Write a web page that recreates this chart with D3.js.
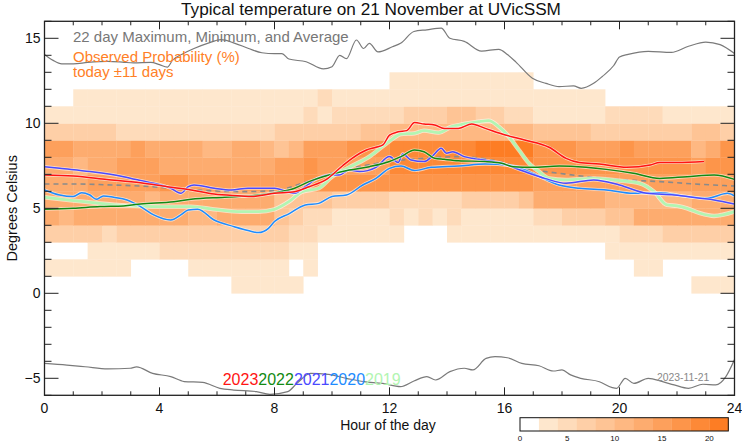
<!DOCTYPE html>
<html><head><meta charset="utf-8">
<script src="https://cdn.jsdelivr.net/npm/d3@7"></script>
<style>body{margin:0;background:#fff;} svg{display:block;font-family:"Liberation Sans",Arial,Helvetica,sans-serif;}</style>
</head><body><svg id="c" width="742" height="445"></svg>
<script>
// ---------------- data ----------------
const titleText = "Typical temperature on 21 November at UVicSSM";
const xTicks = [0, 4, 8, 12, 16, 20, 24];
const yTicks = [-5, 0, 5, 10, 15];
const colorbarTicks = [0, 5, 10, 15, 20];
const years = ["2023", "2022", "2021", "2020", "2019"];
const yearColors = ["#ff1414", "#138a13", "#4a4aff", "#1e8cff", "#b2f5b2"];

// probability level (0..10, each = 2 % wide) per half-hour column, run-length encoded
// index in this array = lower edge of the 1 °C temperature bin
const probBins = [0,1,2,3,4,5,6,7,8,9,10,11,12];
const probLevelRuns = [
  [[0,13],[1,5],[0,27],[1,3]],
  [[1,6],[0,4],[1,7],[0,1],[1,1],[0,22],[1,2],[0,5]],
  [[0,3],[1,5],[2,9],[1,2],[0,20],[1,9]],
  [[3,4],[2,1],[3,12],[2,2],[1,6],[0,3],[1,12],[2,3],[3,5]],
  [[6,1],[5,1],[6,8],[5,2],[6,4],[4,1],[3,1],[2,2],[1,4],[2,1],[1,1],[2,1],[1,1],[2,1],[1,5],[2,2],[3,3],[4,2],[6,7]],
  [[6,7],[5,1],[6,8],[4,4],[3,4],[2,5],[3,4],[4,1],[6,5],[5,6],[6,3]],
  [[6,3],[7,5],[8,2],[7,8],[8,16],[7,14]],
  [[6,2],[5,1],[6,2],[7,3],[6,8],[7,2],[8,1],[7,5],[9,10],[8,11],[7,1],[8,2]],
  [[7,2],[6,4],[7,1],[6,4],[5,2],[6,2],[5,1],[4,1],[5,1],[7,3],[8,3],[9,6],[10,4],[8,3],[7,3],[8,1],[7,4],[5,1],[6,1],[8,1]],
  [[3,5],[2,11],[3,6],[4,2],[5,10],[4,4],[3,7],[4,2],[3,1]],
  [[1,18],[2,1],[1,1],[2,5],[3,3],[4,2],[3,2],[2,2],[1,5],[2,4],[1,5]],
  [[0,2],[1,17],[2,1],[1,19],[0,9]],
  [[0,24],[1,10],[0,14]]
];

const maxLine = [[0,14.05],[0.3,13.7],[0.6,13.5],[1.0,13.5],[1.5,13.58],[2.2,13.64],[2.7,13.6],[3.1,13.55],[3.7,13.58],[4.0,13.45],[4.27,13.3],[4.45,13.7],[4.85,14.12],[5.2,14.4],[5.67,14.7],[6.14,14.92],[6.6,14.72],[7.1,14.4],[7.56,14.15],[8.0,14.1],[8.26,14.1],[8.5,13.78],[9.1,13.62],[9.7,13.2],[10.0,13.33],[10.27,14.0],[10.5,13.8],[10.85,14.9],[11.1,14.4],[11.3,14.7],[11.6,14.2],[12.1,14.5],[12.4,14.72],[12.85,15.4],[13.3,15.5],[13.8,15.6],[14.1,15.0],[14.6,14.82],[15.2,14.25],[15.8,14.35],[16.1,14.05],[16.4,13.6],[16.97,12.65],[17.44,12.35],[17.9,12.16],[18.4,12.2],[18.67,12.06],[19.1,12.35],[19.4,12.75],[19.8,13.4],[20.0,13.9],[20.3,14.05],[21.0,14.23],[21.8,14.17],[22.4,14.53],[23.0,14.78],[23.5,14.63],[24,14.1]];

const minLine = [[0,-4.12],[0.78,-4.22],[1.41,-4.32],[2.2,-4.45],[2.98,-4.41],[3.2,-4.33],[3.76,-4.71],[4.39,-4.9],[4.86,-5.19],[5.5,-5.24],[6.1,-5.59],[6.58,-5.69],[7.37,-5.78],[7.84,-5.94],[8.46,-5.78],[8.78,-5.3],[9.25,-4.71],[9.87,-4.77],[10.5,-5.0],[11.1,-5.2],[11.76,-5.3],[12.38,-5.49],[12.85,-5.16],[13.3,-4.9],[13.6,-5.1],[14.1,-4.61],[14.6,-4.41],[14.9,-4.51],[15.36,-3.83],[15.67,-3.73],[16.1,-3.79],[16.6,-4.12],[17.2,-4.26],[17.7,-4.57],[18.0,-4.51],[18.3,-4.8],[18.65,-5.0],[19.3,-5.2],[19.75,-5.55],[19.9,-5.59],[20.2,-5.0],[20.5,-5.3],[21.0,-5.0],[21.5,-5.2],[21.9,-5.39],[22.4,-5.59],[22.9,-5.35],[23.35,-5.39],[23.7,-4.9],[24,-3.9]];

const avgLine = [[0,6.43],[1,6.43],[2.2,6.38],[3.34,6.31],[4.5,6.18],[5.68,6.04],[6.85,5.98],[8.0,6.04],[8.96,6.47],[9.78,6.96],[10.95,7.45],[12.0,7.75],[13.2,7.94],[14.4,8.04],[15.56,7.84],[16.7,7.35],[17.9,7.06],[19.1,6.82],[20.2,6.67],[21.4,6.57],[22.6,6.43],[24,6.31]];

const series2023 = [[0,6.96],[1,6.9],[2.17,6.7],[3.34,6.5],[4.27,6.27],[5.1,6.08],[5.9,5.84],[6.85,5.73],[7.2,5.69],[8.0,5.88],[8.7,5.98],[9.2,6.27],[9.78,6.67],[10.36,7.49],[10.7,7.94],[11.2,8.43],[11.53,8.59],[11.77,8.73],[12.0,9.3],[12.3,9.5],[12.6,9.57],[12.87,10.04],[13.2,9.96],[13.57,9.9],[13.9,9.7],[14.4,9.7],[14.86,9.96],[15.33,9.7],[16.03,9.31],[16.7,9.02],[17.55,8.59],[18.14,7.94],[18.6,7.69],[19.3,7.6],[20.25,7.41],[21.07,7.55],[21.4,7.69],[22.0,7.69],[22.94,7.75]];

const series2022 = [[0,4.94],[1,5.0],[1.93,5.1],[2.75,5.14],[3.34,5.25],[4.5,5.39],[5.1,5.53],[6.26,5.65],[7.44,5.78],[8.0,5.92],[8.7,6.18],[9.2,6.57],[9.9,6.96],[10.6,7.25],[11.3,7.45],[12.0,7.75],[12.4,8.04],[12.87,8.43],[13.2,8.33],[13.57,7.94],[13.9,7.88],[14.4,7.8],[15.33,7.75],[15.9,7.65],[16.3,7.45],[16.97,7.41],[17.9,7.49],[18.84,7.41],[19.54,7.29],[20.48,7.06],[21.4,6.76],[22.35,6.86],[23.29,6.96],[24,6.7]];

const series2021 = [[0,7.45],[0.53,7.35],[1.58,7.16],[2.75,6.86],[3.34,6.63],[4.39,6.18],[4.74,5.88],[5.0,6.27],[5.2,6.37],[5.9,6.18],[6.5,6.08],[7.08,6.18],[8.0,6.18],[8.7,5.88],[9.07,6.27],[9.43,6.7],[9.9,6.96],[10.25,6.96],[10.6,7.25],[10.95,7.16],[11.53,7.41],[12.0,8.04],[12.3,7.69],[12.46,8.2],[12.75,7.84],[13.2,7.75],[13.5,8.08],[13.8,8.53],[13.98,8.24],[14.2,8.33],[14.6,8.04],[15.1,7.88],[15.8,7.69],[16.7,7.16],[17.4,6.76],[18.14,6.47],[19.1,6.67],[20.0,6.37],[20.95,5.88],[21.9,5.78],[22.8,5.59],[23.29,5.49],[24,5.25]];

const series2020 = [[0,6.08],[0.53,5.78],[1,5.69],[1.29,5.92],[1.58,5.78],[1.8,5.53],[2.05,5.73],[2.4,5.65],[2.87,5.49],[3.34,5.1],[3.8,4.61],[4.39,4.31],[4.74,4.61],[5.0,4.9],[5.33,4.94],[5.9,4.31],[6.6,3.92],[7.08,3.69],[7.44,3.57],[7.79,3.82],[8.0,4.22],[8.5,4.67],[9.07,5.2],[9.54,5.29],[10.0,5.69],[10.5,5.78],[11.07,6.37],[11.53,6.76],[12.0,7.35],[12.4,7.49],[12.87,7.22],[13.45,7.41],[14.4,7.49],[15.33,7.6],[16.3,7.49],[16.97,7.06],[17.9,6.37],[18.6,6.18],[19.54,6.08],[20.48,5.88],[21.4,5.92],[22.35,5.69],[23.06,5.59],[23.76,5.88],[24,5.73]];

const series2019 = [[0,5.65],[1,5.45],[2.17,5.25],[3.1,5.14],[3.92,5.1],[5.1,5.1],[5.9,4.94],[6.85,4.8],[7.44,4.8],[8.0,4.94],[8.5,5.39],[8.96,5.98],[9.54,6.18],[10.0,6.86],[10.6,7.41],[11.3,8.04],[12.0,8.95],[12.4,9.37],[12.87,9.41],[13.2,9.57],[13.7,9.45],[14.16,9.8],[14.6,9.96],[15.1,10.1],[15.45,10.16],[15.8,9.8],[16.15,9.22],[16.5,8.43],[16.85,7.65],[17.2,7.16],[17.55,6.76],[18.14,6.67],[19.1,6.76],[20.0,6.63],[20.7,6.47],[21.2,5.98],[21.65,5.2],[22.0,5.14],[22.35,5.0],[22.8,4.71],[23.29,4.55],[24,4.8]];

const yearSeries = [series2023, series2022, series2021, series2020, series2019];

// ---------------- drawing ----------------
const svg = d3.select("#c");
const plotL = 44.5, plotR = 734.5, plotT = 21.3, plotB = 395.3;
const x = d3.scaleLinear().domain([0, 24]).range([plotL, plotR]);
const y = d3.scaleLinear().domain([-6, 16]).range([plotB, plotT]);

const lvlColor = d3.scaleLinear().domain([1, 10]).range(["#fee7cd", "#fd7d24"]).interpolate(d3.interpolateRgb);
const colorOf = l => l === 0 ? "#ffffff" : lvlColor(l);

// heatmap cells
const cells = [];
probLevelRuns.forEach((runs, i) => {
  let col = 0;
  runs.forEach(([lvl, n]) => {
    for (let k = 0; k < n; k++) { cells.push({h: col * 0.5, t: probBins[i], lvl}); col++; }
  });
});
svg.append("g").selectAll("rect").data(cells.filter(c => c.lvl > 0)).join("rect")
  .attr("x", d => x(d.h)).attr("y", d => y(d.t + 1))
  .attr("width", x(0.5) - x(0) + 0.3).attr("height", y(0) - y(1) + 0.3)
  .attr("fill", d => colorOf(d.lvl));

const line = d3.line().x(d => x(d[0])).y(d => y(d[1])).curve(d3.curveMonotoneX);

svg.append("clipPath").attr("id", "pc").append("rect")
  .attr("x", plotL).attr("y", plotT).attr("width", plotR - plotL).attr("height", plotB - plotT);
const lg = svg.append("g").attr("clip-path", "url(#pc)");

[maxLine, minLine].forEach(s => lg.append("path").attr("d", line(s)).attr("fill", "none")
  .attr("stroke", "#7a7a7a").attr("stroke-width", 1.2));
lg.append("path").attr("d", line(avgLine)).attr("fill", "none")
  .attr("stroke", "#8a8a8a").attr("stroke-width", 1.6).attr("stroke-dasharray", "5,4");

// draw from oldest to newest
for (let i = yearSeries.length - 1; i >= 0; i--) {
  const w = years[i] === "2019" ? 2.8 : 1.5;
  lg.append("path").attr("d", line(yearSeries[i])).attr("fill", "none")
    .attr("stroke", "#ffffff").attr("stroke-opacity", 0.6).attr("stroke-width", w + 1.6);
  lg.append("path").attr("d", line(yearSeries[i])).attr("fill", "none")
    .attr("stroke", yearColors[i]).attr("stroke-width", w);
}

// frame and ticks
const ax = svg.append("g").attr("stroke", "#222").attr("stroke-width", 1);
ax.append("rect").attr("x", plotL).attr("y", plotT).attr("width", plotR - plotL).attr("height", plotB - plotT)
  .attr("fill", "none").attr("stroke", "#222").attr("stroke-width", 1.3);
d3.range(0, 25).forEach(h => {
  const len = xTicks.includes(h) ? 8 : 4;
  ax.append("line").attr("x1", x(h)).attr("x2", x(h)).attr("y1", plotB).attr("y2", plotB - len);
  ax.append("line").attr("x1", x(h)).attr("x2", x(h)).attr("y1", plotT).attr("y2", plotT + len);
});
d3.range(-6, 17).forEach(t => {
  const len = yTicks.includes(t) ? 14 : 7;
  ax.append("line").attr("y1", y(t)).attr("y2", y(t)).attr("x1", plotL).attr("x2", plotL + len);
  ax.append("line").attr("y1", y(t)).attr("y2", y(t)).attr("x1", plotR).attr("x2", plotR - len);
});

const txt = svg.append("g").attr("fill", "#111");
xTicks.forEach(h => txt.append("text").attr("x", x(h)).attr("y", 413).attr("text-anchor", "middle")
  .attr("font-size", 14).text(h));
yTicks.forEach(t => txt.append("text").attr("x", 40.5).attr("y", y(t) + 5).attr("text-anchor", "end")
  .attr("font-size", 14).text(t < 0 ? "\u2212" + Math.abs(t) : t));
txt.append("text").attr("x", 388).attr("y", 430).attr("text-anchor", "middle").attr("font-size", 14).text("Hour of the day");
txt.append("text").attr("transform", "translate(17," + (plotT + plotB) / 2 + ") rotate(-90)")
  .attr("text-anchor", "middle").attr("font-size", 14.5).text("Degrees Celsius");
txt.append("text").attr("x", 371).attr("y", 15).attr("text-anchor", "middle").attr("font-size", 17.2).text(titleText);

// legend texts
svg.append("text").attr("x", 73).attr("y", 41.7).attr("font-size", 15).attr("fill", "#777")
  .text("22 day Maximum, Minimum, and Average");
svg.append("text").attr("x", 73).attr("y", 61.5).attr("font-size", 15).attr("fill", "#ff7f27")
  .text("Observed Probability (%)");
svg.append("text").attr("x", 73).attr("y", 77).attr("font-size", 15).attr("fill", "#ff7f27")
  .text("today \u00b111 days");

let yx = 222.7;
years.forEach((yr, i) => {
  const t = svg.append("text").attr("x", yx).attr("y", 385).attr("font-size", 16)
    .attr("fill", yearColors[i]).text(yr);
  yx += t.node().getComputedTextLength();
});
svg.append("text").attr("x", 657).attr("y", 381).attr("font-size", 10.4).attr("fill", "#888").text("2023-11-21");

// colorbar
const cb = d3.scaleLinear().domain([0, 22]).range([520, 728.3]);
const cbBins = d3.range(0, 11);
svg.append("g").selectAll("rect").data(cbBins).join("rect")
  .attr("x", d => cb(d * 2)).attr("y", 417.7).attr("width", cb(2) - cb(0) + 0.3).attr("height", 13.3)
  .attr("fill", d => colorOf(d));
svg.append("rect").attr("x", cb(0)).attr("y", 417.7).attr("width", cb(22) - cb(0)).attr("height", 13.3)
  .attr("fill", "none").attr("stroke", "#111").attr("stroke-width", 1);
colorbarTicks.forEach(v => svg.append("text").attr("x", cb(v)).attr("y", 441).attr("text-anchor", "middle")
  .attr("font-size", 8).attr("fill", "#111").text(v));
</script></body></html>
